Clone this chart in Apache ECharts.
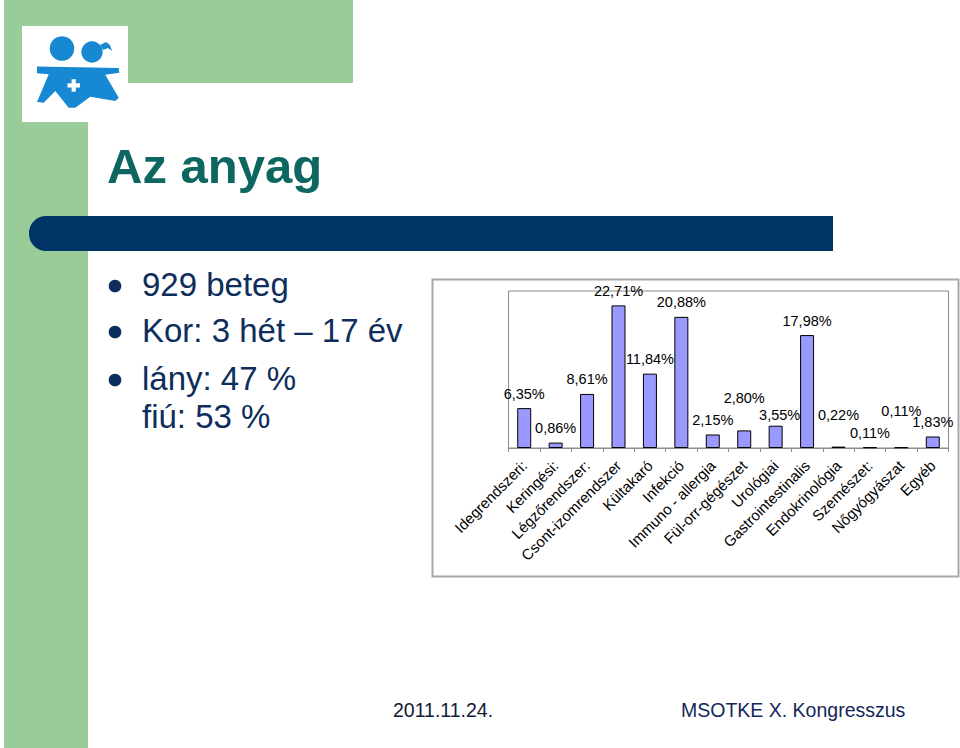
<!DOCTYPE html>
<html>
<head>
<meta charset="utf-8">
<script src="https://cdn.jsdelivr.net/npm/echarts@6/dist/echarts.min.js"></script>
<style>
html,body{margin:0;padding:0;background:#fff;}
#c{width:960px;height:748px;}
</style>
</head>
<body>
<div id="c"></div>
<script>
const categories = ['Idegrendszeri:', 'Keringési:', 'Légzőrendszer:', 'Csont-izomrendszer', 'Kültakaró', 'Infekció', 'Immuno - allergia', 'Fül-orr-gégészet', 'Urológiai', 'Gastrointestinalis', 'Endokrinológia', 'Szemészet:', 'Nőgyógyászat', 'Egyéb'];
const values = [6.35, 0.86, 8.61, 22.71, 11.84, 20.88, 2.15, 2.80, 3.55, 17.98, 0.22, 0.11, 0.11, 1.83];
const titleText = 'Az anyag';
const bulletLines = ['929 beteg', 'Kor: 3 hét – 17 év', 'lány: 47 %'];
const continuationLine = 'fiú: 53 %';
const footerLeft = '2011.11.24.';
const footerRight = 'MSOTKE X. Kongresszus';

const FONT = 'Arial, "Liberation Sans", Helvetica, sans-serif';
const labelShift = {7: [0, -18], 8: [4, 4], 10: [0, -17], 12: [0, -22]};

const barData = values.map((v, i) => {
  const item = {value: v};
  if (labelShift[i]) item.label = {offset: labelShift[i]};
  return item;
});

const blue = '#1789d3';
const graphics = [
  // green frame
  {type: 'rect', z: -20, shape: {x: 4, y: 0, width: 84, height: 748}, style: {fill: '#99cc99'}},
  {type: 'rect', z: -20, shape: {x: 4, y: 0, width: 349, height: 83}, style: {fill: '#99cc99'}},
  // logo box
  {type: 'rect', z: -19, shape: {x: 22, y: 26, width: 106, height: 96}, style: {fill: '#ffffff'}},
  {type: 'circle', z: -18, shape: {cx: 62, cy: 48.5, r: 12.3}, style: {fill: blue}},
  {type: 'circle', z: -18, shape: {cx: 92, cy: 52, r: 10.7}, style: {fill: blue}},
  {type: 'polygon', z: -18, shape: {points: [[100, 45], [106, 42], [110, 45], [112, 51], [108, 48], [103, 50]]}, style: {fill: blue}},
  {type: 'polygon', z: -18, shape: {points: [[37, 66.5], [118.7, 68], [119.3, 72.7], [105.3, 74.7], [118.7, 97.7], [115.3, 101], [90.3, 96.7], [75.3, 107.7], [68.7, 107.7], [55.3, 91], [43.7, 102.7], [37, 102], [48.7, 74.3], [37, 73.3]]}, style: {fill: blue}},
  {type: 'rect', z: -17, shape: {x: 67.5, y: 83.3, width: 12.5, height: 4.2}, style: {fill: '#ffffff'}},
  {type: 'rect', z: -17, shape: {x: 71.6, y: 79.2, width: 4.2, height: 12.5}, style: {fill: '#ffffff'}},
  // dark blue bar
  {type: 'rect', z: -16, shape: {x: 29, y: 216, width: 804, height: 35, r: [17, 0, 0, 17]}, style: {fill: '#003366'}},
  // title
  {type: 'text', z: -15, style: {text: titleText, x: 107, y: 166, font: 'bold 49px ' + FONT, fill: '#0e6660', verticalAlign: 'middle'}},
  // bullets
  ...bulletLines.map((t, i) => ({type: 'circle', z: -15, shape: {cx: 115, cy: [286, 332, 380][i], r: 6.3}, style: {fill: '#0d2e5c'}})),
  ...bulletLines.map((t, i) => ({type: 'text', z: -15, style: {text: t, x: 142, y: [284, 330, 378][i], font: '33px ' + FONT, fill: '#0d2e5c', verticalAlign: 'middle'}})),
  {type: 'text', z: -15, style: {text: continuationLine, x: 142, y: 416, font: '33px ' + FONT, fill: '#0d2e5c', verticalAlign: 'middle'}},
  // chart box
  {type: 'rect', z: -14, shape: {x: 432.5, y: 279.5, width: 526, height: 297}, style: {fill: '#ffffff', stroke: '#a8a8a8', lineWidth: 2}},
  // footer
  {type: 'text', z: -15, style: {text: footerLeft, x: 393, y: 709.5, font: '19.5px ' + FONT, fill: '#111a33', verticalAlign: 'middle'}},
  {type: 'text', z: -15, style: {text: footerRight, x: 681, y: 709.5, font: '19.5px ' + FONT, fill: '#14285a', verticalAlign: 'middle'}}
];

const chart = echarts.init(document.getElementById('c'), null, {renderer: 'svg'});
chart.setOption({
  animation: false,
  backgroundColor: '#ffffff',
  graphic: {elements: graphics},
  grid: {left: 508.5, top: 291, right: 11.5, bottom: 300, show: true, borderColor: '#8c8c8c', borderWidth: 1, backgroundColor: 'transparent', containLabel: false},
  xAxis: {
    type: 'category',
    data: categories,
    axisLine: {show: true, lineStyle: {color: '#8c8c8c', width: 1}},
    axisTick: {show: true, alignWithLabel: false, length: 4, lineStyle: {color: '#8c8c8c'}},
    axisLabel: {interval: 0, rotate: 45, margin: 15, fontSize: 15, fontFamily: FONT, color: '#000'},
    splitLine: {show: false}
  },
  yAxis: {type: 'value', min: 0, max: 25, show: false, splitLine: {show: false}},
  series: [{
    type: 'bar',
    data: barData,
    barWidth: 14,
    itemStyle: {color: '#9999ff', borderColor: '#000', borderWidth: 1},
    label: {
      show: true, position: 'top', distance: 7, fontSize: 14.5, fontFamily: FONT, color: '#000',
      formatter: p => p.value.toFixed(2).replace('.', ',') + '%'
    }
  }]
});
</script>
</body>
</html>
